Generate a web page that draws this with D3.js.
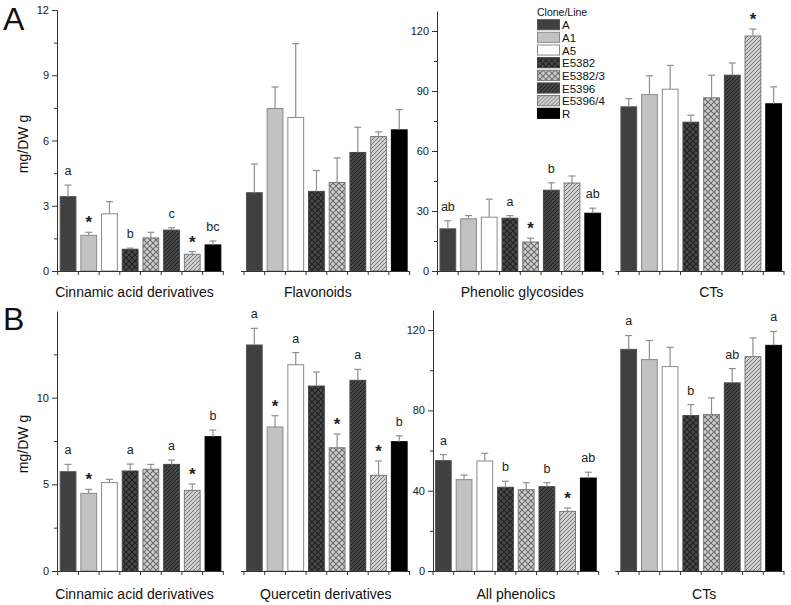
<!DOCTYPE html>
<html>
<head>
<meta charset="utf-8">
<script src="https://cdn.jsdelivr.net/npm/d3@7"></script>
<style>
  html, body { margin: 0; padding: 0; background: #fff; }
  svg { display: block; font-family: "Liberation Sans", Arial, sans-serif; }
</style>
</head>
<body>
<svg id="chart" width="791" height="605"></svg>
<script>
// ---------------- DATA ----------------
const clones = ["A", "A1", "A5", "E5382", "E5382/3", "E5396", "E5396/4", "R"];

const groupsA = ["Cinnamic acid derivatives", "Flavonoids", "Phenolic glycosides", "CTs"];
const groupsB = ["Cinnamic acid derivatives", "Quercetin derivatives", "All phenolics", "CTs"];

// Panel A
const aCinnamicMean = [3.42, 1.64, 2.63, 1.00, 1.52, 1.88, 0.77, 1.20];
const aCinnamicSd   = [0.53, 0.14, 0.56, 0.05, 0.26, 0.11, 0.12, 0.18];
const aCinnamicSig  = ["a", "*", "", "b", "", "c", "*", "bc"];

const aFlavonoidMean = [3.60, 7.47, 7.06, 3.66, 4.07, 5.45, 6.18, 6.49];
const aFlavonoidSd   = [1.32, 0.99, 3.39, 0.96, 1.13, 1.16, 0.22, 0.93];
const aFlavonoidSig  = ["", "", "", "", "", "", "", ""];

const aGlycosideMean = [21.1, 26.1, 26.9, 26.4, 14.5, 40.4, 44.0, 28.9];
const aGlycosideSd   = [4.0, 1.6, 9.0, 1.3, 1.9, 3.7, 3.5, 2.5];
const aGlycosideSig  = ["ab", "", "", "a", "*", "b", "", "ab"];

const aCTsMean = [82.1, 88.2, 90.9, 74.4, 86.6, 97.9, 117.5, 83.6];
const aCTsSd   = [4.1, 9.4, 11.9, 3.5, 11.3, 6.1, 3.5, 8.5];
const aCTsSig  = ["", "", "", "", "", "", "*", ""];

// Panel B
const bCinnamicMean = [5.73, 4.48, 5.10, 5.77, 5.87, 6.15, 4.65, 7.75];
const bCinnamicSd   = [0.42, 0.23, 0.19, 0.40, 0.28, 0.25, 0.37, 0.38];
const bCinnamicSig  = ["a", "*", "", "a", "", "a", "*", "b"];

const bQuercetinMean = [13.04, 8.31, 11.90, 10.67, 7.11, 11.00, 5.52, 7.46];
const bQuercetinSd   = [0.96, 0.65, 0.70, 0.81, 0.79, 0.63, 0.83, 0.34];
const bQuercetinSig  = ["a", "*", "a", "", "*", "a", "*", "b"];

const bAllPhenolicsMean = [55.0, 45.5, 54.8, 41.7, 40.5, 42.0, 29.7, 46.3];
const bAllPhenolicsSd   = [3.0, 2.3, 3.8, 3.0, 3.5, 2.0, 1.7, 2.9];
const bAllPhenolicsSig  = ["a", "", "", "b", "", "b", "*", "ab"];

const bCTsMean = [110.4, 105.3, 101.8, 77.4, 77.9, 93.7, 106.8, 112.4];
const bCTsSd   = [6.9, 9.5, 9.6, 5.5, 8.3, 7.1, 9.3, 6.9];
const bCTsSig  = ["a", "", "", "b", "", "ab", "", "a"];

// Axis ticks
const aLeftTicks  = [0, 3, 6, 9, 12];
const aRightTicks = [0, 30, 60, 90, 120];
const bLeftTicks  = [0, 5, 10];
const bRightTicks = [0, 40, 80, 120];
const aLeftMax = 12, aRightMax = 130, bLeftMax = 15, bRightMax = 130;

const yLabel = "mg/DW g";
const legendTitle = "Clone/Line";

// ---------------- STYLE ----------------
const svg = d3.select("#chart");
const defs = svg.append("defs");

function crossPattern(id, bg, line) {
  const s = 6;
  const p = defs.append("pattern").attr("id", id).attr("patternUnits", "userSpaceOnUse")
    .attr("width", s).attr("height", s);
  p.append("rect").attr("width", s).attr("height", s).attr("fill", bg);
  p.append("path").attr("d", `M0,0L${s},${s}M0,${s}L${s},0`)
    .attr("stroke", line).attr("stroke-width", 1.1).attr("fill", "none");
}
function diagPattern(id, bg, line) {
  const s = 4;
  const p = defs.append("pattern").attr("id", id).attr("patternUnits", "userSpaceOnUse")
    .attr("width", s).attr("height", s);
  p.append("rect").attr("width", s).attr("height", s).attr("fill", bg);
  p.append("path").attr("d", `M-1,1L1,-1M0,${s}L${s},0M${s - 1},${s + 1}L${s + 1},${s - 1}`)
    .attr("stroke", line).attr("stroke-width", 1).attr("fill", "none");
}
crossPattern("pCrossDark", "#4a4a4a", "#1e1e1e");
crossPattern("pCrossLight", "#cfcfcf", "#6a6a6a");
diagPattern("pDiagDark", "#474747", "#1e1e1e");
diagPattern("pDiagLight", "#d0d0d0", "#777");

const fillOf = d3.scaleOrdinal().domain(clones).range([
  "#404040", "#c2c2c2", "#ffffff", "url(#pCrossDark)", "url(#pCrossLight)",
  "url(#pDiagDark)", "url(#pDiagLight)", "#000000"
]);
const strokeOf = d3.scaleOrdinal().domain(clones).range([
  "#555", "#8a8a8a", "#8a8a8a", "#444", "#777", "#444", "#777", "#000"
]);

// ---------------- PANELS ----------------
const panels = [
  {
    letter: "A", letterY: 29,
    y0: 271, yTopLeft: 10, yTopRight: 11,
    leftMax: aLeftMax, rightMax: aRightMax,
    leftTicks: aLeftTicks, rightTicks: aRightTicks,
    leftMinorStep: 1.5, rightMinorStep: 15,
    rightAxisX: 437, rightRange: [437.5, 784], rightPad: 0.085,
    labelY: 297, labelNudge: [-6, -9, 2, 10], yLabelY: 144,
    groups: groupsA,
    means: [aCinnamicMean, aFlavonoidMean, aGlycosideMean, aCTsMean],
    sds: [aCinnamicSd, aFlavonoidSd, aGlycosideSd, aCTsSd],
    sigs: [aCinnamicSig, aFlavonoidSig, aGlycosideSig, aCTsSig],
    legend: true
  },
  {
    letter: "B", letterY: 329,
    y0: 571, yTopLeft: 311, yTopRight: 310,
    leftMax: bLeftMax, rightMax: bRightMax,
    leftTicks: bLeftTicks, rightTicks: bRightTicks,
    leftMinorStep: 2.5, rightMinorStep: 20,
    rightAxisX: 433, rightRange: [433, 784], rightPad: 0.106,
    labelY: 599, labelNudge: [-6, -1, 0, 3], yLabelY: 444,
    groups: groupsB,
    means: [bCinnamicMean, bQuercetinMean, bAllPhenolicsMean, bCTsMean],
    sds: [bCinnamicSd, bQuercetinSd, bAllPhenolicsSd, bCTsSd],
    sigs: [bCinnamicSig, bQuercetinSig, bAllPhenolicsSig, bCTsSig],
    legend: false
  }
];

const leftAxisX = 57;

panels.forEach(P => {
  const g = svg.append("g");
  const yL = d3.scaleLinear().domain([0, P.leftMax]).range([P.y0, P.yTopLeft]);
  const yR = d3.scaleLinear().domain([0, P.rightMax]).range([P.y0, P.yTopRight]);

  const xLeft = d3.scaleBand().domain(P.groups.slice(0, 2)).range([57.7, 409.6])
    .paddingInner(0.111).paddingOuter(0);
  const xRight = d3.scaleBand().domain(P.groups.slice(2, 4)).range(P.rightRange)
    .paddingInner(P.rightPad).paddingOuter(0);

  P.groups.forEach((grp, gi) => {
    const isLeft = gi < 2;
    const xg = isLeft ? xLeft : xRight;
    const y = isLeft ? yL : yR;
    const gx = xg(grp);
    const bw = xg.bandwidth();
    const xc = d3.scaleBand().domain(clones).range([gx, gx + bw])
      .paddingInner(0.19).paddingOuter(0.095);

    const rows = clones.map((c, i) => ({
      clone: c, mean: P.means[gi][i], sd: P.sds[gi][i], sig: P.sigs[gi][i]
    }));

    const gg = g.append("g");
    // bars
    gg.selectAll("rect.bar").data(rows).join("rect")
      .attr("class", "bar")
      .attr("x", d => xc(d.clone) + 0.5)
      .attr("y", d => y(d.mean))
      .attr("width", xc.bandwidth() - 1)
      .attr("height", d => y(0) - y(d.mean))
      .attr("fill", d => fillOf(d.clone))
      .attr("stroke", d => strokeOf(d.clone))
      .attr("stroke-width", 1);

    // error bars (upper)
    const eb = gg.selectAll("g.err").data(rows).join("g").attr("class", "err")
      .attr("stroke", "#8f8f8f").attr("stroke-width", 1.2);
    eb.append("line")
      .attr("x1", d => xc(d.clone) + xc.bandwidth() / 2)
      .attr("x2", d => xc(d.clone) + xc.bandwidth() / 2)
      .attr("y1", d => y(d.mean))
      .attr("y2", d => y(d.mean + d.sd));
    eb.append("line")
      .attr("x1", d => xc(d.clone) + xc.bandwidth() / 2 - 3.5)
      .attr("x2", d => xc(d.clone) + xc.bandwidth() / 2 + 3.5)
      .attr("y1", d => y(d.mean + d.sd))
      .attr("y2", d => y(d.mean + d.sd));

    // significance labels
    gg.selectAll("text.sig").data(rows.filter(d => d.sig)).join("text")
      .attr("class", "sig")
      .attr("x", d => xc(d.clone) + xc.bandwidth() / 2)
      .attr("y", d => y(d.mean + d.sd) - (d.sig === "*" ? 4 : 10))
      .attr("text-anchor", "middle")
      .attr("font-size", d => d.sig === "*" ? 17 : 12.5)
      .attr("font-weight", d => d.sig === "*" ? "bold" : "normal")
      .attr("fill", "#222")
      .text(d => d.sig);

    // x baseline segment with ticks at slot edges
    const startX = (gi === 0) ? leftAxisX : (gi === 2 ? P.rightAxisX : gx - 3);
    gg.append("line")
      .attr("x1", startX).attr("x2", gx + bw)
      .attr("y1", y(0) + 0.5).attr("y2", y(0) + 0.5)
      .attr("stroke", "#333").attr("stroke-width", 1);
    const edges = clones.map(c => xc(c) - xc.step() * 0.095).concat([gx + bw]);
    gg.selectAll("line.xt").data(edges).join("line")
      .attr("class", "xt")
      .attr("x1", d => d).attr("x2", d => d)
      .attr("y1", y(0)).attr("y2", y(0) + 4)
      .attr("stroke", "#333").attr("stroke-width", 1);

    // category label
    g.append("text")
      .attr("x", gx + bw / 2 + P.labelNudge[gi])
      .attr("y", P.labelY)
      .attr("text-anchor", "middle")
      .attr("font-size", 14)
      .attr("fill", "#111")
      .text(grp);
  });

  // y axes
  function drawAxis(scale, x, ticks, minorStep, max) {
    const ax = g.append("g").attr("transform", `translate(${x},0)`);
    ax.call(d3.axisLeft(scale).tickValues(ticks).tickSize(5).tickPadding(3).tickSizeOuter(0)
      .tickFormat(d3.format("d")));
    ax.select(".domain").attr("stroke", "#333");
    ax.selectAll(".tick line").attr("stroke", "#333");
    ax.selectAll(".tick text").attr("font-size", 11).attr("fill", "#222")
      .attr("font-family", "Liberation Sans, Arial, sans-serif");
    const minors = d3.range(minorStep, max + 1e-9, minorStep).filter(v => !ticks.includes(v) && v < max);
    const mx = g.append("g").attr("transform", `translate(${x},0)`);
    mx.call(d3.axisLeft(scale).tickValues(minors).tickSize(3).tickFormat(""));
    mx.select(".domain").remove();
    mx.selectAll(".tick line").attr("stroke", "#333");
  }
  drawAxis(yL, leftAxisX, P.leftTicks, P.leftMinorStep, P.leftMax);
  drawAxis(yR, P.rightAxisX, P.rightTicks, P.rightMinorStep, P.rightMax);

  // y label
  g.append("text")
    .attr("transform", `translate(28,${P.yLabelY}) rotate(-90)`)
    .attr("text-anchor", "middle")
    .attr("font-size", 14)
    .attr("fill", "#111")
    .text(yLabel);

  // panel letter
  g.append("text")
    .attr("x", 3).attr("y", P.letterY + 1)
    .attr("font-size", 32)
    .attr("fill", "#111")
    .text(P.letter);

  // legend
  if (P.legend) {
    const lg = g.append("g").attr("transform", "translate(537,0)");
    lg.append("text").attr("x", 0).attr("y", 16).attr("font-size", 10.5).attr("fill", "#111")
      .text(legendTitle);
    const ly = d3.scaleBand().domain(clones).range([19, 119]).paddingInner(0.2).paddingOuter(0.05);
    const items = lg.selectAll("g.li").data(clones).join("g").attr("class", "li")
      .attr("transform", d => `translate(0,${ly(d)})`);
    items.append("rect")
      .attr("x", 0.5).attr("y", 0)
      .attr("width", 22).attr("height", ly.bandwidth())
      .attr("fill", d => fillOf(d)).attr("stroke", d => strokeOf(d)).attr("stroke-width", 1);
    items.append("text")
      .attr("x", 25).attr("y", ly.bandwidth() - 0.5)
      .attr("font-size", 11.5).attr("fill", "#111")
      .text(d => d);
  }
});
</script>
</body>
</html>
